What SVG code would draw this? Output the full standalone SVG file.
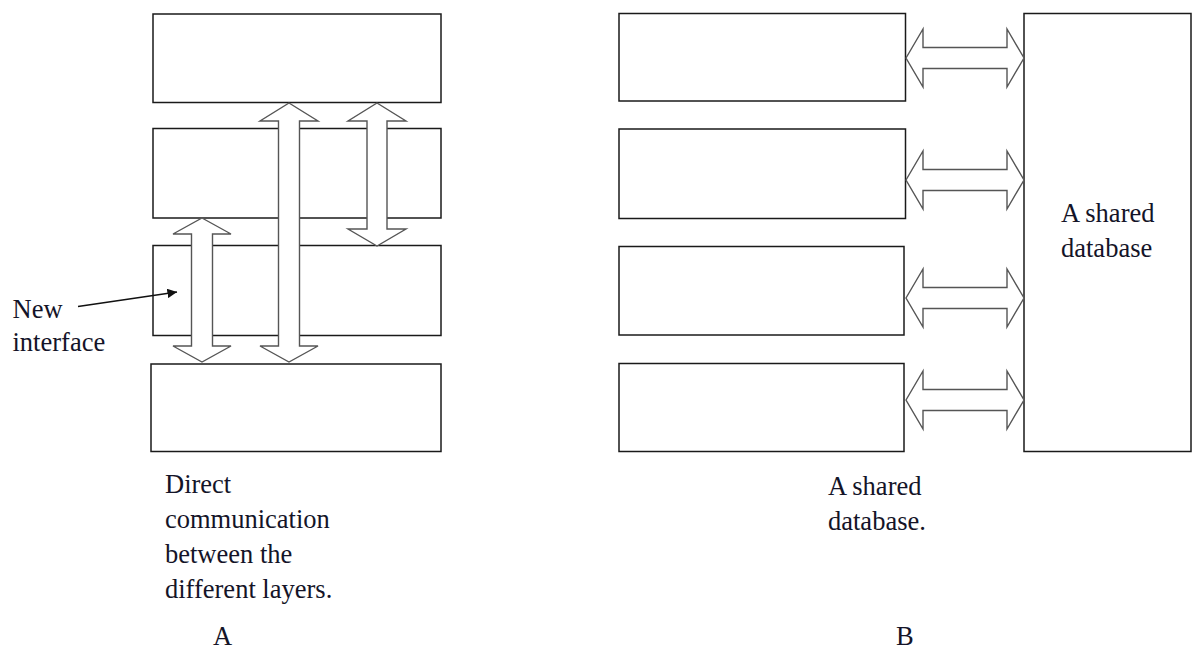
<svg xmlns="http://www.w3.org/2000/svg" width="1192" height="653" viewBox="0 0 1192 653">
<defs>
<style>
.box{fill:#fff;stroke:#1a1a1a;stroke-width:1.5}
.arr{fill:#fff;stroke:#555;stroke-width:1.4;stroke-linejoin:miter}
.t{font-family:"Liberation Serif","Times New Roman",serif;font-size:26.5px;fill:#141428}
</style>
<marker id="ah" viewBox="0 0 10 10" refX="10" refY="5" markerWidth="6" markerHeight="6" markerUnits="strokeWidth" orient="auto">
<path d="M0,0 L10,5 L0,10 Z" fill="#111"/>
</marker>
</defs>
<rect width="1192" height="653" fill="#fff"/>
<g id="layer-a1"><rect class="box" x="153" y="14" width="288" height="88.5"/></g>
<g id="layer-a2"><rect class="box" x="153" y="128.5" width="288" height="89.5"/></g>
<g id="layer-a3"><rect class="box" x="153" y="245.5" width="288" height="90"/></g>
<g id="layer-a4"><rect class="box" x="151" y="364" width="290" height="87.5"/></g>
<g id="layer-b1"><rect class="box" x="619" y="13.5" width="286.5" height="87.5"/></g>
<g id="layer-b2"><rect class="box" x="619" y="129" width="286.5" height="89.5"/></g>
<g id="layer-b3"><rect class="box" x="619" y="246.5" width="285" height="88.5"/></g>
<g id="layer-b4"><rect class="box" x="619" y="363.5" width="285" height="88"/></g>
<g id="shared-db"><rect class="box" x="1024" y="13.5" width="167" height="438"/>
<text class="t" x="1061" y="222">A shared</text>
<text class="t" x="1061" y="257">database</text></g>
<g id="connectors">
<polygon class="arr" points="202,218 231,234 212.5,234 212.5,346 231,346 202,362 173,346 191.5,346 191.5,234 173,234"/>
<polygon class="arr" points="289,103 318,121 299.5,121 299.5,346 318,346 289,362 260,346 278.5,346 278.5,121 260,121"/>
<polygon class="arr" points="377,103 406,121 387,121 387,229 406,229 377,246 348,229 367,229 367,121 348,121"/>
<polygon class="arr" points="906,58 923,29 923,47.5 1007,47.5 1007,29 1024,58 1007,87 1007,68.5 923,68.5 923,87"/>
<polygon class="arr" points="906,180 923,151 923,169.5 1007,169.5 1007,151 1024,180 1007,209 1007,190.5 923,190.5 923,209"/>
<polygon class="arr" points="906,298 923,269 923,287.5 1007,287.5 1007,269 1024,298 1007,327 1007,308.5 923,308.5 923,327"/>
<polygon class="arr" points="906,400 923,371 923,389.5 1007,389.5 1007,371 1024,400 1007,429 1007,410.5 923,410.5 923,429"/>
<line x1="78" y1="306.5" x2="177" y2="292" stroke="#111" stroke-width="1.6" marker-end="url(#ah)"/>
</g>
<g id="labels">
<text class="t" x="12.5" y="318">New</text>
<text class="t" x="12.5" y="351">interface</text>
<text class="t" x="165" y="493">Direct</text>
<text class="t" x="165" y="528">communication</text>
<text class="t" x="165" y="563">between the</text>
<text class="t" x="165" y="598">different layers.</text>
<text class="t" x="213" y="645">A</text>
<text class="t" x="828" y="495">A shared</text>
<text class="t" x="828" y="530">database.</text>
<text class="t" x="896" y="645">B</text>
</g>
</svg>
